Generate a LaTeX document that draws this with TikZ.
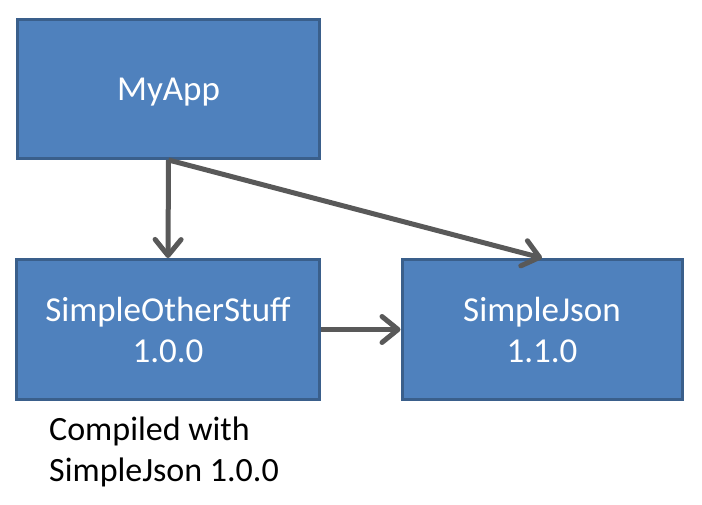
\documentclass[tikz,border=0pt]{standalone}
\usepackage{fontspec}
\setmainfont{Carlito}
\usetikzlibrary{arrows.meta}
\definecolor{boxfill}{HTML}{4F81BD}
\definecolor{boxline}{HTML}{3A5F8B}
\definecolor{arrowgray}{HTML}{595959}
\tikzset{
  blockbox/.style={draw=boxline, fill=boxfill, line width=3pt, text=white,
    align=center, inner sep=0pt, text depth=0pt, font=\fontsize{35}{41}\selectfont},
  conn/.style={draw=arrowgray, line width=5pt,
    -{Straight Barb[length=16pt,width=26pt,line cap=round,line join=round]}},
}
\begin{document}
\begin{tikzpicture}[x=1pt,y=-1pt]
\useasboundingbox (0,0) rectangle (702,505);
\node[blockbox, minimum width=302pt, minimum height=139pt] (app) at (168.5,89) {MyApp};
\node[blockbox, minimum width=303pt, minimum height=140pt] (other) at (168,329.5) {SimpleOtherStuff\\1.0.0};
\node[blockbox, minimum width=280pt, minimum height=140pt] (json) at (542,329.5) {SimpleJson\\1.1.0};
\node[anchor=base west, align=left, inner sep=0pt, font=\fontsize{34}{41}\selectfont] (note) at (49,481.7) {Compiled with\\SimpleJson 1.0.0};
\draw[conn] (app.south) -- (other.north);
\draw[conn] (app.south) -- (json.north);
\draw[conn] (other.east) -- (json.west);
\end{tikzpicture}
\end{document}
